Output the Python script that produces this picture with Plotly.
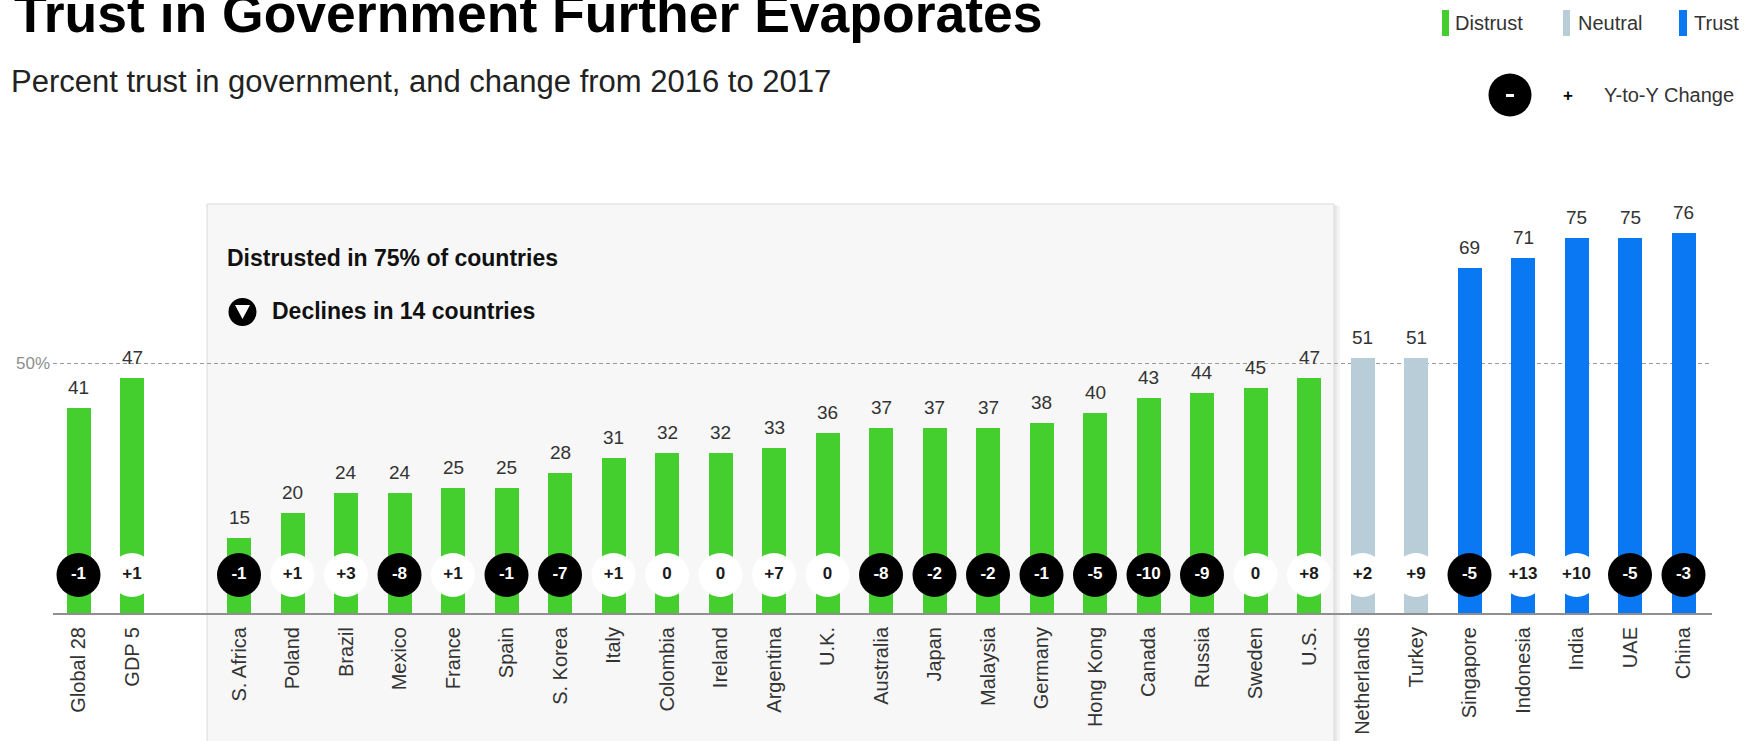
import plotly.graph_objects as go

# ---- data -------------------------------------------------------------
aggregates = ["Global 28", "GDP 5"]
aggregate_trust = [41, 47]
aggregate_change = [-1, 1]

countries = [
    "S. Africa", "Poland", "Brazil", "Mexico", "France", "Spain", "S. Korea",
    "Italy", "Colombia", "Ireland", "Argentina", "U.K.", "Australia", "Japan",
    "Malaysia", "Germany", "Hong Kong", "Canada", "Russia", "Sweden", "U.S.",
    "Netherlands", "Turkey", "Singapore", "Indonesia", "India", "UAE", "China",
]
country_trust = [
    15, 20, 24, 24, 25, 25, 28, 31, 32, 32, 33, 36, 37, 37, 37, 38, 40, 43,
    44, 45, 47, 51, 51, 69, 71, 75, 75, 76,
]
country_change = [
    -1, 1, 3, -8, 1, -1, -7, 1, 0, 0, 7, 0, -8, -2, -2, -1, -5, -10, -9, 0,
    8, 2, 9, -5, 13, 10, -5, -3,
]

# ---- styling ------------------------------------------------------------
W, H = 1758, 741
FONT = "Liberation Sans, Arial, Helvetica, sans-serif"
DISTRUST, NEUTRAL, TRUST = "#45CF2F", "#B8CDD8", "#0A78F2"
TEXT = "#333333"

# plot area in pixels
L, R, T, B = 53, 46, 0, 128
PW, PH = W - L - R, H - T - B          # 1659 x 613
SLOT = 53.5                             # pixels between bar centres
PX_PER_PCT = 5.0                        # pixels per percentage point
FIRST_CENTER = 78.5                     # pixel x of the first bar
CHANGE_ROW = 7.6                        # height of the change bubbles (in % units)


def px(x):
    return (x - L) / PW


def py(y):
    return (T + PH - y) / PH


def band(v):
    if v >= 60:
        return TRUST
    if v >= 50:
        return NEUTRAL
    return DISTRUST


def fmt_change(c):
    return f"+{c}" if c > 0 else str(c)


# aggregates sit in the first two slots, one empty slot, then the countries
names = aggregates + countries
trust = aggregate_trust + country_trust
change = aggregate_change + country_change
xpos = list(range(len(aggregates))) + [len(aggregates) + 1 + i for i in range(len(countries))]

x0 = -(FIRST_CENTER - L) / SLOT
x_range = [x0, x0 + PW / SLOT]
y_range = [0, PH / PX_PER_PCT]

fig = go.Figure()

fig.add_trace(go.Bar(
    x=xpos, y=trust, width=24 / SLOT,
    marker=dict(color=[band(v) for v in trust], line=dict(width=0)),
    hoverinfo="skip", showlegend=False,
))

fig.add_trace(go.Scatter(
    x=xpos, y=[CHANGE_ROW] * len(xpos), mode="markers+text",
    marker=dict(size=44, color=["#000000" if c < 0 else "#FFFFFF" for c in change],
                line=dict(width=0)),
    text=[fmt_change(c) for c in change], textposition="middle center",
    textfont=dict(family=FONT, size=17, weight="bold",
                  color=["#FFFFFF" if c < 0 else "#1a1a1a" for c in change]),
    hoverinfo="skip", showlegend=False, cliponaxis=False,
))

annotations = []
for x, v in zip(xpos, trust):
    annotations.append(dict(
        x=x, y=v, xref="x", yref="y", text=str(v), showarrow=False,
        xanchor="center", yanchor="middle", yshift=21,
        font=dict(family=FONT, size=19, color=TEXT),
    ))


def label(text, x, y, size, color=TEXT, anchor="left", bold=False):
    annotations.append(dict(
        x=px(x), y=py(y), xref="paper", yref="paper",
        text=f"<b>{text}</b>" if bold else text, showarrow=False,
        xanchor=anchor, yanchor="middle",
        font=dict(family=FONT, size=size, color=color),
    ))


# headings
label("Trust in Government Further Evaporates", 12, 13.5, 53.5, "#000000", bold=True)
label("Percent trust in government, and change from 2016 to 2017", 9, 82, 31, "#222222")

# panel callouts
label("Distrusted in 75% of countries", 225, 258, 23, "#111111", bold=True)
label("Declines in 14 countries", 270, 311, 23, "#111111", bold=True)

# key
label("Distrust", 1453, 23, 20)
label("Neutral", 1576, 23, 20)
label("Trust", 1692, 23, 20)
label("+", 1568, 96, 17, "#000000", anchor="center", bold=True)
label("Y-to-Y Change", 1602, 95, 20)

shapes = []


def rect(xa, ya, xb, yb, fill, line=None, layer="below"):
    shapes.append(dict(
        type="rect", xref="paper", yref="paper",
        x0=px(xa), x1=px(xb), y0=py(yb), y1=py(ya),
        fillcolor=fill, line=dict(width=1 if line else 0, color=line or fill),
        layer=layer,
    ))


# shaded panel behind the distrusted countries, with a soft drop shadow
rect(209, 206, 1340, 760, "rgba(0,0,0,0.04)")
rect(208, 205, 1337, 760, "rgba(0,0,0,0.05)")
rect(207, 204, 1334, 760, "#F7F7F7", line="#DADADA")

# key swatches
rect(1442, 10, 1449, 36, DISTRUST, layer="above")
rect(1563, 10, 1570, 36, NEUTRAL, layer="above")
rect(1679, 10, 1687, 36, TRUST, layer="above")

# key bubble with minus sign
shapes.append(dict(type="circle", xref="paper", yref="paper",
                   x0=px(1488.5), x1=px(1531.5), y0=py(116.5), y1=py(73.5),
                   fillcolor="#000000", line=dict(width=0), layer="above"))
rect(1506, 94, 1514, 97, "#FFFFFF", layer="above")

# "declines" icon: black disc with white down-pointing triangle
shapes.append(dict(type="circle", xref="paper", yref="paper",
                   x0=px(228.5), x1=px(256.5), y0=py(326), y1=py(298),
                   fillcolor="#000000", line=dict(width=0), layer="above"))
shapes.append(dict(
    type="path", xref="paper", yref="paper",
    path=(f"M {px(235)} {py(305)} L {px(250)} {py(305)} "
          f"L {px(242.5)} {py(319)} Z"),
    fillcolor="#FFFFFF", line=dict(width=0), layer="above",
))

fig.update_layout(
    width=W, height=H,
    margin=dict(l=L, r=R, t=T, b=B, pad=0),
    paper_bgcolor="#FFFFFF", plot_bgcolor="rgba(0,0,0,0)",
    font=dict(family=FONT, color=TEXT),
    bargap=0, showlegend=False,
    annotations=annotations, shapes=shapes,
    xaxis=dict(
        range=x_range, tickmode="array", tickvals=xpos, ticktext=names,
        tickangle=-90, tickfont=dict(family=FONT, size=20, color=TEXT),
        ticks="", ticklabelstandoff=4,
        showline=True, linecolor="#8F8F8F", linewidth=2,
        showgrid=False, zeroline=False, fixedrange=True,
    ),
    yaxis=dict(
        range=y_range, tickmode="array", tickvals=[50], ticktext=["50%"],
        tickfont=dict(family=FONT, size=17, color="#8E8E8E"),
        ticks="", ticklabelstandoff=2,
        showgrid=True, gridcolor="#9A9A9A", gridwidth=1, griddash="4px,3px",
        showline=False, zeroline=False, fixedrange=True,
    ),
)

fig.write_html("out.html", config={"displayModeBar": False})
